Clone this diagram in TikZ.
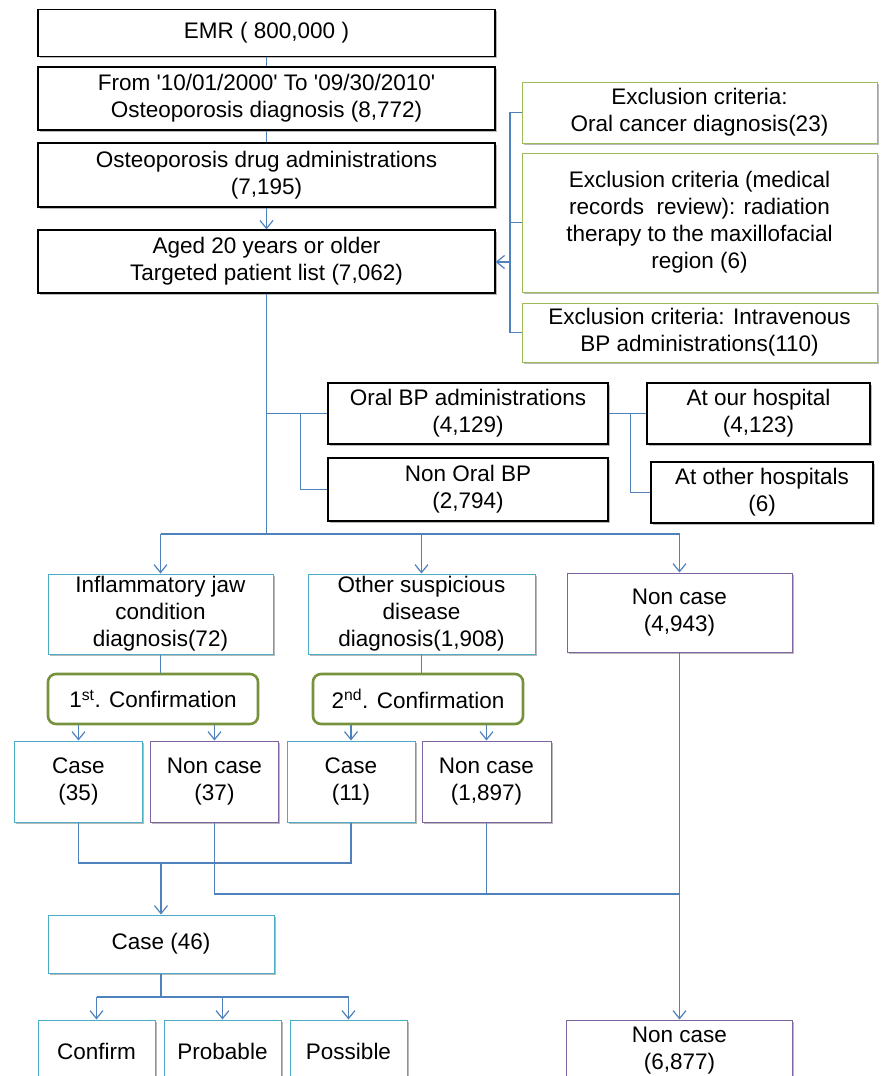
\documentclass[tikz,border=0pt]{standalone}
\usepackage{fontspec}
\setmainfont{Liberation Sans}
\usetikzlibrary{arrows.meta,shadows}

\definecolor{lineblue}{RGB}{79,129,189}
\definecolor{boxteal}{RGB}{75,172,198}
\definecolor{boxpurple}{RGB}{128,100,162}
\definecolor{boxolive}{RGB}{155,187,89}
\definecolor{confgreen}{RGB}{118,146,60}

\begin{document}
\begin{tikzpicture}[x=1pt, y=-1pt,
        every node/.style={font=\fontsize{22.5}{27}\selectfont, align=center, inner sep=2pt},
        shadowed/.style={drop shadow={shadow xshift=1.5pt, shadow yshift=-1.5pt, fill=black!45, opacity=0.6}},
        blackbox/.style={draw=black, line width=1.2pt, fill=white, shadowed},
        exclbox/.style={draw=boxolive, line width=1pt, fill=white, shadowed},
        casebox/.style={draw=boxteal, line width=1pt, fill=white, shadowed},
        nonbox/.style={draw=boxpurple, line width=1pt, fill=white, shadowed},
        confbox/.style={draw=confgreen, line width=2.6pt, rounded corners=8pt, fill=white},
        line/.style={draw=lineblue, line width=1.2pt},
        arr/.style={line, -{Straight Barb[length=8pt, width=13pt]}}]
        \clip (0,0) rectangle (882,1076);
        %\draw[gray!30] (0,0) grid[step=50pt] (882,1076);

        \node[blackbox, minimum width=457pt, minimum height=47pt] (emr) at (266.5,33) {EMR ( 800,000 )};
        \node[blackbox, minimum width=457pt, minimum height=63pt] (from) at (266.5,98.5) {From \textquotesingle10/01/2000\textquotesingle\ To \textquotesingle09/30/2010\textquotesingle\\Osteoporosis diagnosis (8,772)};
        \node[blackbox, minimum width=457pt, minimum height=64pt] (drug) at (266.5,175) {Osteoporosis drug administrations\\(7,195)};
        \node[blackbox, minimum width=457pt, minimum height=63pt] (aged) at (266.5,261.5) {Aged 20 years or older\\Targeted patient list (7,062)};
        \draw[line] (emr) -- (from);
        \draw[line] (from) -- (drug);
        \draw[arr] (drug) -- (aged);

        \node[exclbox, minimum width=355pt, minimum height=61pt] (excl1) at (699.5,112.5) {Exclusion criteria:\\Oral cancer diagnosis(23)};
        \node[exclbox, minimum width=355pt, minimum height=139pt] (excl2) at (699.5,222.5) {Exclusion criteria (medical\\records \ review): radiation\\therapy to the maxillofacial\\region (6)};
        \node[exclbox, minimum width=355pt, minimum height=59pt] (excl3) at (699.5,332.5) {Exclusion criteria: Intravenous\\BP administrations(110)};
        \coordinate (exclbar) at (510,262);
        \draw[line] (excl1.west) -| (exclbar) |- (excl3.west);
        \draw[line] (excl2.west) -- (excl2.west -| exclbar);
        \draw[arr] (exclbar) -- (exclbar -| aged.east);

        \node[blackbox, minimum width=280pt, minimum height=61pt] (oral) at (468,413.5) {Oral BP administrations\\(4,129)};
        \node[blackbox, minimum width=280pt, minimum height=63pt] (nonoral) at (468,489.5) {Non Oral BP\\(2,794)};
        \node[blackbox, minimum width=223pt, minimum height=61pt] (ourhosp) at (758.5,413.5) {At our hospital\\(4,123)};
        \node[blackbox, minimum width=222pt, minimum height=61pt] (otherhosp) at (762,492.5) {At other hospitals\\(6)};
        \coordinate (split) at (266.5,534);
        \draw[line] (aged) -- (split);
        \draw[line] (oral.west) -- (oral.west -| split);
        \draw[line] ([xshift=-27pt]oral.west) |- (nonoral.west);
        \draw[line] (oral.east) -- (ourhosp.west);
        \draw[line] ([xshift=22pt]oral.east) |- (otherhosp.west);

        \node[casebox, minimum width=225pt, minimum height=80pt] (inflam) at (160.5,614) {Inflammatory jaw\\condition\\diagnosis(72)};
        \node[casebox, minimum width=227pt, minimum height=80pt] (othersusp) at (421.5,614) {Other suspicious\\disease\\diagnosis(1,908)};
        \node[nonbox, minimum width=225pt, minimum height=79pt] (noncaseA) at (679.5,612.5) {Non case\\(4,943)};
        \draw[line] (inflam.north |- split) -- (noncaseA.north |- split);
        \draw[arr] (inflam.north |- split) -- (inflam.north);
        \draw[arr] (othersusp.north |- split) -- (othersusp.north);
        \draw[arr] (noncaseA.north |- split) -- (noncaseA.north);

        \node[confbox, minimum width=210pt, minimum height=50pt] (conf1) at (153,699) {1\textsuperscript{st}. Confirmation};
        \node[confbox, minimum width=210pt, minimum height=50pt] (conf2) at (418,699) {2\textsuperscript{nd}. Confirmation};
        \draw[line] (inflam) -- (inflam.south |- conf1.north);
        \draw[line] (othersusp) -- (othersusp.south |- conf2.north);

        \node[casebox, minimum width=128pt, minimum height=81pt] (case35) at (78.5,781.5) {Case\\(35)};
        \node[nonbox, minimum width=128pt, minimum height=81pt] (noncase37) at (214.5,781.5) {Non case\\(37)};
        \node[casebox, minimum width=128pt, minimum height=81pt] (case11) at (351,781.5) {Case\\(11)};
        \node[nonbox, minimum width=129pt, minimum height=81pt] (noncase1897) at (486.5,781.5) {Non case\\(1,897)};
        \draw[arr] (case35.north |- conf1.south) -- (case35.north);
        \draw[arr] (noncase37.north |- conf1.south) -- (noncase37.north);
        \draw[arr] (case11.north |- conf2.south) -- (case11.north);
        \draw[arr] (noncase1897.north |- conf2.south) -- (noncase1897.north);

        \node[casebox, minimum width=226pt, minimum height=58pt] (case46) at (161,944) {Case (46)};
        \node[nonbox, minimum width=226pt, minimum height=62pt] (noncase6877) at (679.5,1051) {Non case\\(6,877)};
        \coordinate (casemerge) at (161,863);
        \coordinate (nonmerge) at (679.5,894);
        \draw[line] (case35.south) |- (casemerge) -| (case11.south);
        \draw[arr] (casemerge) -- (case46.north);
        \draw[line] (noncase37.south) |- (nonmerge);
        \draw[line] (noncase1897.south) -- (noncase1897.south |- nonmerge);
        \draw[arr] (noncaseA.south) -- (noncase6877.north);

        \node[casebox, minimum width=117pt, minimum height=62pt] (confirm) at (96.5,1051) {Confirm};
        \node[casebox, minimum width=117pt, minimum height=62pt] (probable) at (222.5,1051) {Probable};
        \node[casebox, minimum width=117pt, minimum height=62pt] (possible) at (348.5,1051) {Possible};
        \coordinate (casesplit) at (161,997);
        \draw[line] (case46) -- (casesplit);
        \draw[line] (confirm.north |- casesplit) -- (possible.north |- casesplit);
        \draw[arr] (confirm.north |- casesplit) -- (confirm.north);
        \draw[arr] (probable.north |- casesplit) -- (probable.north);
        \draw[arr] (possible.north |- casesplit) -- (possible.north);
\end{tikzpicture}
\end{document}
